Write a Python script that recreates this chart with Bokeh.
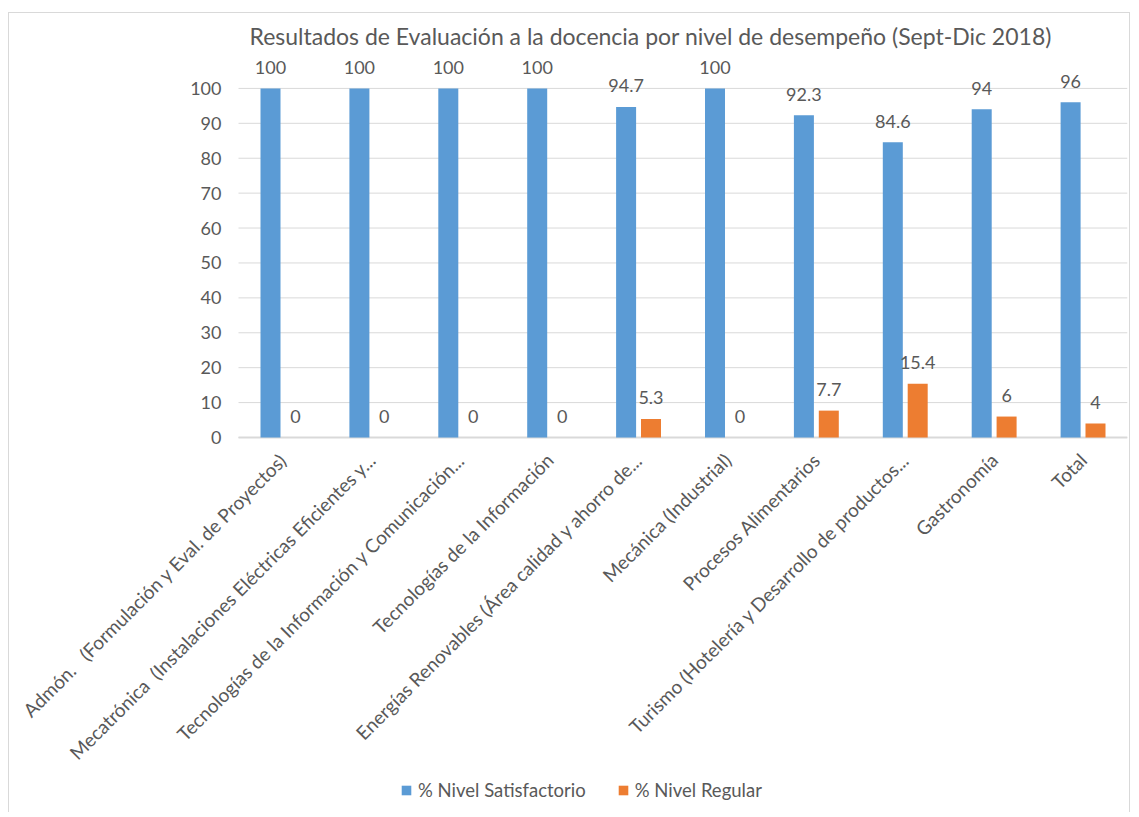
import math
from bokeh.plotting import figure
from bokeh.models import Range1d, Legend, LegendItem, ColumnDataSource, Title
from bokeh.core.properties import value
from bokeh.embed import file_html
from bokeh.resources import INLINE

NB = "\u00a0"
categories = [
    "Admón." + NB * 3 + "(Formulación y Eval. de Proyectos)",
    "Mecatrónica" + NB * 2 + "(Instalaciones Eléctricas Eficientes y...",
    "Tecnologías de la Información y Comunicación...",
    "Tecnologías de la Información",
    "Energías Renovables (Área calidad y ahorro de...",
    "Mecánica (Industrial)",
    "Procesos Alimentarios",
    "Turismo (Hotelería y Desarrollo de productos...",
    "Gastronomía",
    "Total",
]
satisfactorio = [100, 100, 100, 100, 94.7, 100, 92.3, 84.6, 94, 96]
regular = [0, 0, 0, 0, 5.3, 0, 7.7, 15.4, 6, 4]
y_ticks = [0, 10, 20, 30, 40, 50, 60, 70, 80, 90, 100]

title_text = "Resultados de Evaluación a la docencia por nivel de desempeño (Sept-Dic 2018)"
series_names = ["% Nivel Satisfactorio", "% Nivel Regular"]

FONT = "Lato"
TXT = "#595959"
GRID = "#D9D9D9"
BLUE = "#5B9BD5"
ORANGE = "#ED7D31"

# layout constants (pixels)
W, H = 1122, 800
B_LEFT, B_RIGHT, B_TOP, B_BOTTOM = 0, 4, 40, 0
PLOT_LEFT_PX = 229      # pixels from frame left to the category axis start
CAT_PX = 88.9           # pixel width of one category
Y_TOP = 110             # data value at the top of the frame
PX_FOR_110 = 384        # pixel height of 0..110
frame_h = H - B_TOP - B_BOTTOM
frame_w = W - B_LEFT - B_RIGHT
y_start = Y_TOP - Y_TOP * frame_h / PX_FOR_110
x_start = -PLOT_LEFT_PX / CAT_PX
x_end = x_start + frame_w / CAT_PX

n = len(categories)
xpos = [i + 0.5 for i in range(n)]
off = 0.14
bar_w = 0.225

def fmt(v):
    return f"{v:g}"

src = ColumnDataSource(dict(
    cat=categories,
    x=xpos,
    xs=[x - off for x in xpos],
    xr=[x + off for x in xpos],
    sat=satisfactorio,
    reg=regular,
    base=[0] * n,
    sat_lbl=[fmt(v) for v in satisfactorio],
    reg_lbl=[fmt(v) for v in regular],
))
tick_src = ColumnDataSource(dict(
    y=y_ticks,
    x0=[0] * len(y_ticks),
    x1=[n] * len(y_ticks),
    lbl=[str(v) for v in y_ticks],
))

p = figure(
    width=W, height=H,
    x_range=Range1d(x_start, x_end),
    y_range=Range1d(y_start, Y_TOP),
    output_backend="svg", toolbar_location=None,
    min_border_left=B_LEFT, min_border_right=B_RIGHT, min_border_top=B_TOP, min_border_bottom=B_BOTTOM,
    x_axis_location=None, y_axis_location=None,
)
p.margin = (12, 0, 0, 8)
p.styles = {"border-top": "1px solid #D9D9D9", "border-left": "1px solid #D9D9D9",
            "border-right": "1px solid #D9D9D9"}

t = Title(text=title_text, align="left", offset=240, text_font=FONT, text_font_size="23px",
          text_font_style="normal", text_color=TXT, standoff=8)
p.add_layout(t, "above")

p.outline_line_color = None
p.background_fill_color = "white"
p.border_fill_color = "white"
p.grid.grid_line_color = None

# value-axis gridlines and labels
p.segment(x0="x0", x1="x1", y0="y", y1="y", source=tick_src, line_color=GRID, line_width=1)
p.segment(x0=[0], x1=[n], y0=[0], y1=[0], line_color=GRID, line_width=2)
p.text(x="x0", y="y", text="lbl", source=tick_src, x_offset=-17,
       text_align="right", text_baseline="middle",
       text_font=value(FONT), text_font_size="18px", text_color=TXT)

r1 = p.vbar(x="xs", top="sat", width=bar_w, source=src,
            fill_color=BLUE, line_color=None)
r2 = p.vbar(x="xr", top="reg", width=bar_w, source=src,
            fill_color=ORANGE, line_color=None)

p.text(x="xs", y="sat", text="sat_lbl", source=src,
       y_offset=-21, text_align="center", text_baseline="alphabetic",
       text_font=value(FONT), text_font_size="18px", text_color=TXT)
p.text(x="xr", y="reg", text="reg_lbl", source=src,
       y_offset=-21, text_align="center", text_baseline="alphabetic",
       text_font=value(FONT), text_font_size="18px", text_color=TXT)

# category labels, rotated 45 degrees
p.text(x="x", y="base", text="cat", source=src, angle=math.pi / 4,
       x_offset=0, y_offset=19, text_align="right", text_baseline="middle",
       text_font=value(FONT), text_font_size="19px", text_color=TXT)

legend = Legend(items=[LegendItem(label=series_names[0], renderers=[r1]),
                       LegendItem(label=series_names[1], renderers=[r2])],
                location=(391, 12), orientation="horizontal")
legend.border_line_color = None
legend.background_fill_alpha = 0
legend.padding = 0
legend.margin = 0
legend.spacing = 31
legend.glyph_width = 12
legend.glyph_height = 12
legend.label_standoff = 6
legend.label_text_font = FONT
legend.label_text_font_size = "18.5px"
legend.label_text_color = TXT
p.add_layout(legend, "center")

open("out.html", "w").write(file_html(p, INLINE))
